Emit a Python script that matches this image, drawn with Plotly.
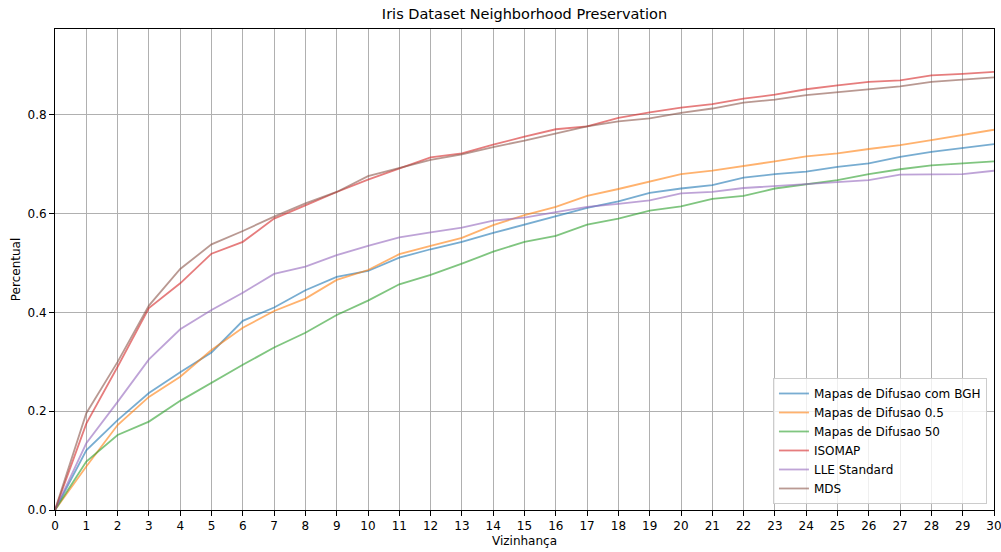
import plotly.graph_objects as go

neighborhood = list(range(31))

mapas_bgh = [0, 0.121, 0.182, 0.237, 0.279, 0.319, 0.383, 0.410, 0.445, 0.472, 0.484,
             0.511, 0.528, 0.543, 0.561, 0.578, 0.594, 0.612, 0.625, 0.642, 0.651,
             0.658, 0.673, 0.680, 0.685, 0.695, 0.702, 0.715, 0.725, 0.733, 0.741]
mapas_05 = [0, 0.088, 0.172, 0.229, 0.270, 0.324, 0.369, 0.403, 0.428, 0.466, 0.486,
            0.518, 0.535, 0.551, 0.577, 0.597, 0.614, 0.636, 0.650, 0.665, 0.680,
            0.687, 0.696, 0.706, 0.716, 0.722, 0.731, 0.739, 0.749, 0.759, 0.770]
mapas_50 = [0, 0.098, 0.152, 0.179, 0.221, 0.258, 0.294, 0.329, 0.359, 0.395, 0.424,
            0.457, 0.476, 0.499, 0.523, 0.543, 0.555, 0.578, 0.590, 0.606, 0.615,
            0.630, 0.636, 0.651, 0.660, 0.668, 0.680, 0.690, 0.698, 0.702, 0.706]
isomap = [0, 0.175, 0.290, 0.409, 0.459, 0.519, 0.543, 0.590, 0.617, 0.644, 0.669,
          0.692, 0.714, 0.722, 0.740, 0.756, 0.771, 0.777, 0.794, 0.805, 0.815,
          0.822, 0.833, 0.841, 0.852, 0.860, 0.867, 0.870, 0.880, 0.883, 0.887]
lle = [0, 0.135, 0.219, 0.305, 0.366, 0.405, 0.440, 0.478, 0.493, 0.516, 0.535,
       0.552, 0.562, 0.572, 0.586, 0.592, 0.603, 0.614, 0.620, 0.627, 0.641,
       0.644, 0.652, 0.656, 0.661, 0.665, 0.668, 0.679, 0.680, 0.680, 0.687]
mds = [0, 0.196, 0.300, 0.414, 0.488, 0.538, 0.565, 0.594, 0.621, 0.644, 0.676,
       0.692, 0.709, 0.720, 0.735, 0.748, 0.763, 0.777, 0.787, 0.793, 0.804,
       0.813, 0.825, 0.831, 0.840, 0.846, 0.852, 0.858, 0.867, 0.872, 0.876]

series = [
    ("Mapas de Difusao com BGH", mapas_bgh, "#1f77b4"),
    ("Mapas de Difusao 0.5", mapas_05, "#ff7f0e"),
    ("Mapas de Difusao 50", mapas_50, "#2ca02c"),
    ("ISOMAP", isomap, "#d62728"),
    ("LLE Standard", lle, "#9467bd"),
    ("MDS", mds, "#8c564b"),
]

fig = go.Figure()
for name, vals, color in series:
    fig.add_trace(go.Scatter(x=neighborhood, y=vals, mode="lines", name=name,
                             line=dict(color=color, width=1.8), opacity=0.6))

font = "DejaVu Sans, sans-serif"
fig.update_layout(
    width=1001, height=552,
    margin=dict(l=55, r=7, t=29, b=42),
    paper_bgcolor="white", plot_bgcolor="white",
    font=dict(family=font, size=12, color="black"),
    title=dict(text="Iris Dataset Neighborhood Preservation", x=0.5, xanchor="center",
               xref="paper", y=1, yref="container", yanchor="top", pad=dict(t=9),
               font=dict(size=14.5, color="black", family=font)),
    showlegend=True,
    legend=dict(x=0.9925, y=0.0125, xanchor="right", yanchor="bottom",
                bgcolor="rgba(255,255,255,0.8)", bordercolor="#cccccc", borderwidth=1,
                font=dict(size=12, family=font), tracegroupgap=0, itemwidth=30),
    xaxis=dict(range=[0, 30], tickmode="linear", tick0=0, dtick=1,
               showgrid=True, gridcolor="#b0b0b0", gridwidth=0.8,
               showline=True, linecolor="black", linewidth=1, mirror=True,
               ticks="outside", ticklen=5, tickcolor="black",
               ticklabeloverflow="allow", automargin=False,
               zeroline=False,
               title=dict(text="Vizinhança", standoff=4, font=dict(size=12))),
    yaxis=dict(range=[0, 0.974], tickmode="linear", tick0=0, dtick=0.2, tickformat=".1f",
               showgrid=True, gridcolor="#b0b0b0", gridwidth=0.8,
               showline=True, linecolor="black", linewidth=1, mirror=True,
               ticks="outside", ticklen=5, tickcolor="black",
               automargin=False,
               zeroline=False,
               title=dict(text="Percentual", standoff=4, font=dict(size=12))),
)

fig.write_html("out.html")
